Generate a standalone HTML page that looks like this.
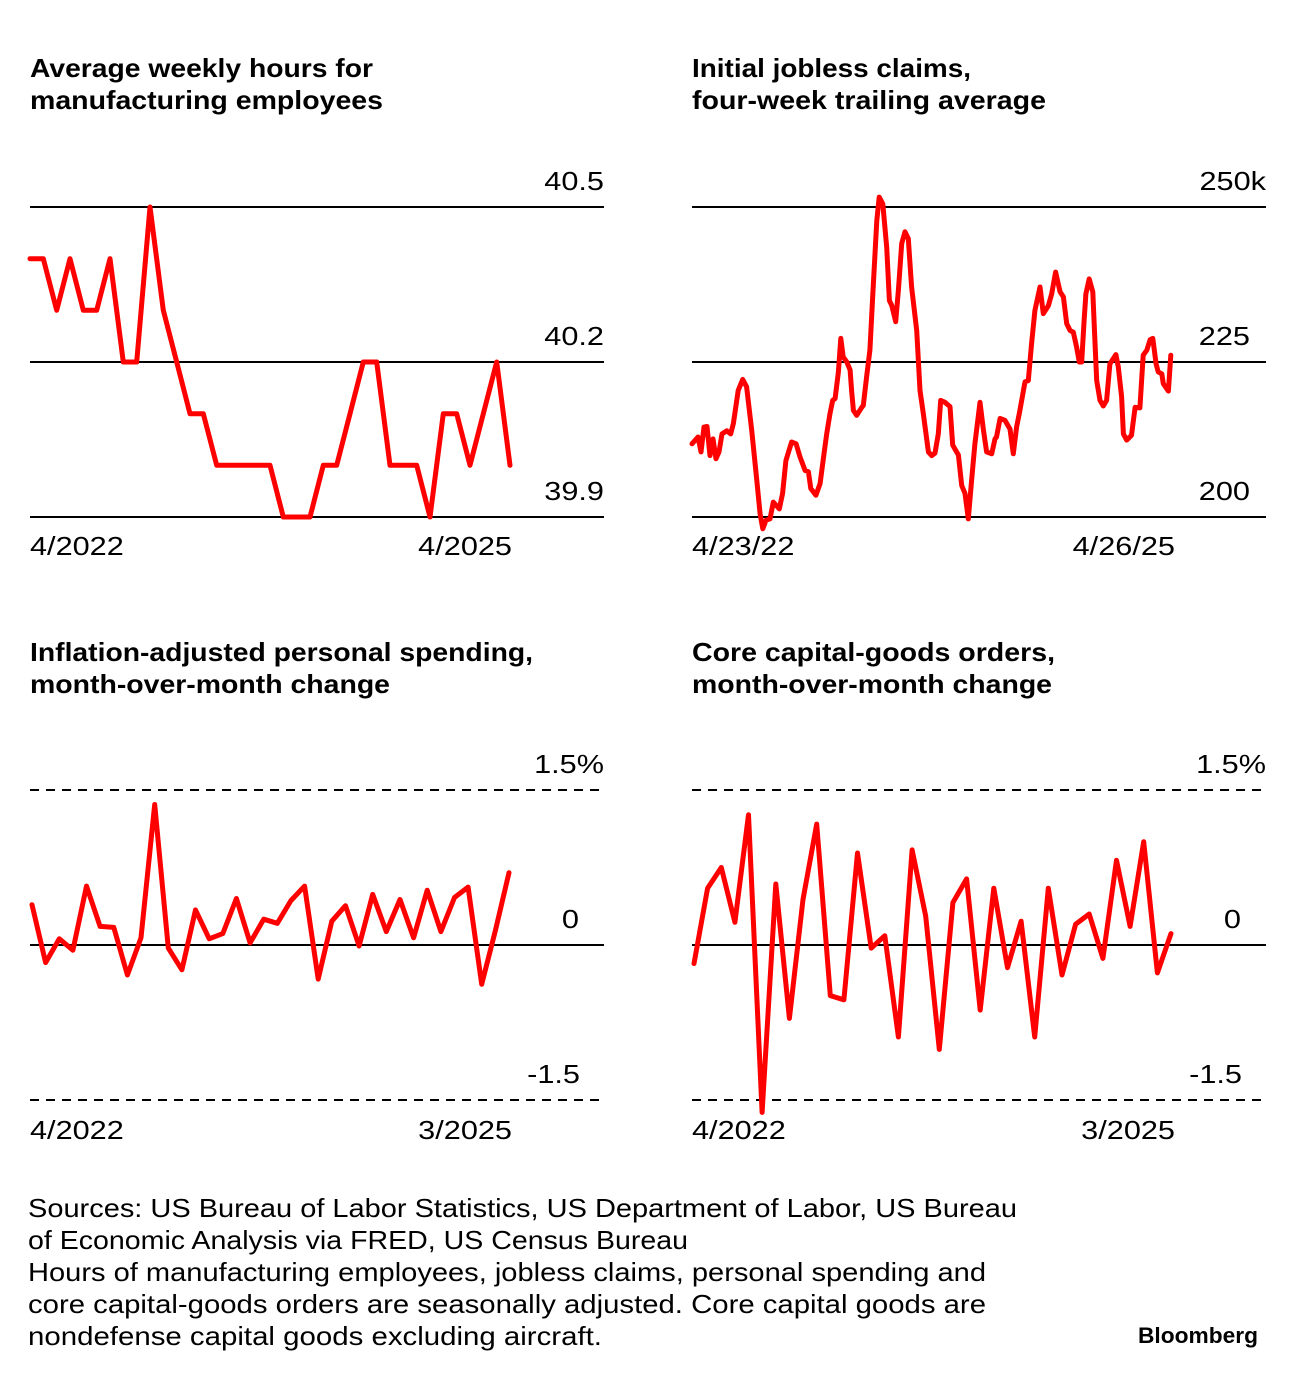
<!DOCTYPE html>
<html><head><meta charset="utf-8"><style>
html,body{margin:0;padding:0;background:#fff;}
svg{display:block;font-family:"Liberation Sans",sans-serif;}
.t{font-weight:bold;font-size:26px;fill:#000;}
.k{font-size:26px;fill:#000;}
.f{font-size:26px;fill:#000;}
.grid{stroke:#000;stroke-width:2;}
.dash{stroke:#000;stroke-width:2;stroke-dasharray:9,7;}
.ln{fill:none;stroke:#ff0000;stroke-width:5;stroke-linejoin:round;stroke-linecap:round;}
</style></head><body>
<svg id="root" width="1296" height="1378" viewBox="0 0 1296 1378">
<g>
<text class="t" x="30" y="77" textLength="343" lengthAdjust="spacingAndGlyphs">Average weekly hours for</text>
<text class="t" x="30" y="109" textLength="353" lengthAdjust="spacingAndGlyphs">manufacturing employees</text>
<g id="c1"></g>
</g>
<g>
<text class="t" x="692" y="77" textLength="279" lengthAdjust="spacingAndGlyphs">Initial jobless claims,</text>
<text class="t" x="692" y="109" textLength="354" lengthAdjust="spacingAndGlyphs">four-week trailing average</text>
<g id="c2"></g>
</g>
<g>
<text class="t" x="30" y="661" textLength="503" lengthAdjust="spacingAndGlyphs">Inflation-adjusted personal spending,</text>
<text class="t" x="30" y="693" textLength="360" lengthAdjust="spacingAndGlyphs">month-over-month change</text>
<g id="c3"></g>
</g>
<g>
<text class="t" x="692" y="661" textLength="363" lengthAdjust="spacingAndGlyphs">Core capital-goods orders,</text>
<text class="t" x="692" y="693" textLength="360" lengthAdjust="spacingAndGlyphs">month-over-month change</text>
<g id="c4"></g>
</g>
<g>
<text class="f" x="28" y="1217" textLength="989" lengthAdjust="spacingAndGlyphs">Sources: US Bureau of Labor Statistics, US Department of Labor, US Bureau</text>
<text class="f" x="28" y="1249" textLength="660" lengthAdjust="spacingAndGlyphs">of Economic Analysis via FRED, US Census Bureau</text>
<text class="f" x="28" y="1281" textLength="958" lengthAdjust="spacingAndGlyphs">Hours of manufacturing employees, jobless claims, personal spending and</text>
<text class="f" x="28" y="1313" textLength="958" lengthAdjust="spacingAndGlyphs">core capital-goods orders are seasonally adjusted. Core capital goods are</text>
<text class="f" x="28" y="1345" textLength="574" lengthAdjust="spacingAndGlyphs">nondefense capital goods excluding aircraft.</text>
<text x="1138" y="1343" textLength="120" lengthAdjust="spacingAndGlyphs" style="font-weight:bold;font-size:22px">Bloomberg</text>
</g>
</svg>
<script>
const hoursValues=[40.4,40.4,40.3,40.4,40.3,40.3,40.4,40.2,40.2,40.5,40.3,40.2,40.1,40.1,40.0,40.0,40.0,40.0,40.0,39.9,39.9,39.9,40.0,40.0,40.1,40.2,40.2,40.0,40.0,40.0,39.9,40.1,40.1,40.0,40.1,40.2,40.0];
const hoursTicks=[40.5,40.2,39.9];
const hoursTickLabels=["40.5","40.2","39.9"];
const hoursXLabels=["4/2022","4/2025"];

const claimsWeeks=[0,2,3,4,5,6,7,8,9,10,11.6,12.9,13.8,15.4,16.9,18.2,19.9,21.6,22.7,23.6,24.7,26,27.1,29.1,30.2,31.3,33.2,34.7,36,37.7,38.8,39.6,41.3,42.7,44,44.9,46,46.9,47.7,48.8,49.6,50.4,51.6,52.7,53.2,53.8,54.9,56.6,57.1,58.2,59.3,60.4,61.6,62.4,63.6,64.9,65.8,66.6,67.9,68.8,69.9,71,72.1,73.2,74.9,76,77.1,78.8,79.9,81,82.1,82.9,84.3,86,86.9,88.8,89.9,91,92.1,93.2,94.3,96,97.1,98.2,99.9,101,101.5,102.7,104.3,106,107.1,108.2,109.3,111,112.1,113.2,114.3,116,117.1,118.8,119.9,121.2,122.7,123.8,124.9,126,127.1,128.2,129.1,129.9,130.7,131.3,132.4,133.6,134.3,134.9,136,137.1,138.2,139.3,141.3,142.1,143.2,143.8,144.9,146.5,147.7,149.3,150.4,151.6,152.7,153.6,154.7,155.4,156.6,157.1,158.8,159.6];
const claimsValues=[211.8,212.9,210.5,214.5,214.6,209.9,212.6,209.4,210.5,213.4,213.9,213.4,215.1,220.4,222.2,221.0,214.0,205.9,200.5,198.1,199.5,199.7,202.4,201.3,203.8,209.1,212.1,211.8,209.7,207.5,207.3,204.6,203.5,205.4,210.2,213.4,216.7,218.8,219.1,223.4,228.8,225.8,225.0,223.7,220.4,217.2,216.4,217.7,218.0,222.6,226.9,237.1,247.8,251.6,250.5,243.5,234.9,234.1,231.5,236.6,244.1,246.0,244.9,237.1,230.1,220.4,216.7,210.5,209.9,210.3,213.4,218.8,218.5,217.8,211.6,210.0,205.1,203.8,199.7,205.9,211.8,218.5,214.2,210.5,210.2,212.6,212.9,215.9,215.6,214.2,210.2,214.5,217.2,221.8,222.0,228.0,233.3,237.1,232.8,234.1,236.0,239.5,236.3,235.5,231.2,230.1,229.8,227.4,225.0,225.0,231.7,236.0,238.4,236.3,228.5,222.0,218.8,217.9,218.8,224.7,226.2,224.2,219.4,213.4,212.4,213.2,217.7,217.6,226.1,226.9,228.6,228.8,224.7,223.4,223.1,221.5,220.3,226.1];
const claimsTicks=[250,225,200];
const claimsTickLabels=["250k","225","200"];
const claimsXLabels=["4/23/22","4/26/25"];

const spendValues=[0.39,-0.17,0.06,-0.05,0.57,0.18,0.17,-0.29,0.07,1.36,-0.03,-0.24,0.34,0.06,0.11,0.45,0.02,0.25,0.21,0.43,0.57,-0.33,0.23,0.38,-0.01,0.49,0.13,0.44,0.07,0.53,0.13,0.46,0.56,-0.38,0.14,0.70];
const ordersValues=[-0.18,0.55,0.75,0.22,1.26,-1.62,0.59,-0.71,0.44,1.17,-0.49,-0.53,0.89,-0.03,0.09,-0.89,0.92,0.28,-1.01,0.41,0.64,-0.63,0.55,-0.22,0.23,-0.89,0.55,-0.29,0.20,0.30,-0.13,0.82,0.18,1.00,-0.27,0.11];
const pctTicks=[1.5,0,-1.5];
const pctTickLabels=["1.5%","0","-1.5"];
const pctXLabels=["4/2022","3/2025"];

const NS="http://www.w3.org/2000/svg";
function mk(tag,attrs,parent){const e=document.createElementNS(NS,tag);for(const k in attrs)e.setAttribute(k,attrs[k]);parent.appendChild(e);return e;}
function widen(t){const w=t.getComputedTextLength();t.setAttribute('textLength',(w*1.18).toFixed(1));t.setAttribute('lengthAdjust','spacingAndGlyphs');}
function build(gid,cfg){
  const g=document.getElementById(gid);
  const x0=cfg.x0,x1=x0+574,yTop=cfg.yTop,yBot=cfg.yBot;
  const ys=v=>yTop+(cfg.max-v)/(cfg.max-cfg.min)*(yBot-yTop);
  const xs=i=>cfg.lx0+(i-cfg.i0)/(cfg.i1-cfg.i0)*(cfg.lx1-cfg.lx0);
  cfg.ticks.forEach((t,k)=>{
    const y=ys(t);
    const dashed=cfg.dashed&&k!==1;
    const l=mk('line',{x1:x0,x2:x1,y1:y,y2:y,class:dashed?'dash':'grid'},g);
    
    
    const lab=cfg.tickLabels[k];
    const tx=mk('text',{x:cfg.labelX[k],y:y-17,class:'k','text-anchor':'end'},g);
    tx.textContent=lab;
    
    
    widen(tx);
  });
  const pts=cfg.values.map((v,i)=>xs(cfg.idx?cfg.idx[i]:i).toFixed(1)+','+ys(v).toFixed(1)).join(' ');
  const pl=mk('polyline',{points:pts,class:'ln'},g);
  
  
  const a=mk('text',{x:x0,y:cfg.xLabY,class:'k'},g);a.textContent=cfg.xLabels[0];
  
  
  widen(a);
  const b=mk('text',{x:cfg.xLabEnd,y:cfg.xLabY,class:'k','text-anchor':'end'},g);b.textContent=cfg.xLabels[1];
  
  
  widen(b);
}
build('c1',{name:'hours',x0:30,yTop:207,yBot:517,max:40.5,min:39.9,ticks:hoursTicks,tickLabels:hoursTickLabels,labelX:[604,604,604],values:hoursValues,i0:0,i1:36,lx0:30,lx1:510,xLabels:hoursXLabels,xLabY:555,xLabEnd:512});
build('c2',{name:'claims',x0:692,yTop:207,yBot:517,max:250,min:200,ticks:claimsTicks,tickLabels:claimsTickLabels,labelX:[1266,1250,1250],values:claimsValues,idx:claimsWeeks,i0:0,i1:160,lx0:692,lx1:1172,xLabels:claimsXLabels,xLabY:555,xLabEnd:1175});
build('c3',{name:'spending',x0:30,yTop:790,yBot:1100,max:1.5,min:-1.5,dashed:true,ticks:pctTicks,tickLabels:pctTickLabels,labelX:[604,579,580],values:spendValues,i0:0,i1:35,lx0:32,lx1:509,xLabels:pctXLabels,xLabY:1139,xLabEnd:512});
build('c4',{name:'orders',x0:692,yTop:790,yBot:1100,max:1.5,min:-1.5,dashed:true,ticks:pctTicks,tickLabels:pctTickLabels,labelX:[1266,1241,1242],values:ordersValues,i0:0,i1:35,lx0:694,lx1:1171,xLabels:pctXLabels,xLabY:1139,xLabEnd:1175});
</script>
</body></html>
